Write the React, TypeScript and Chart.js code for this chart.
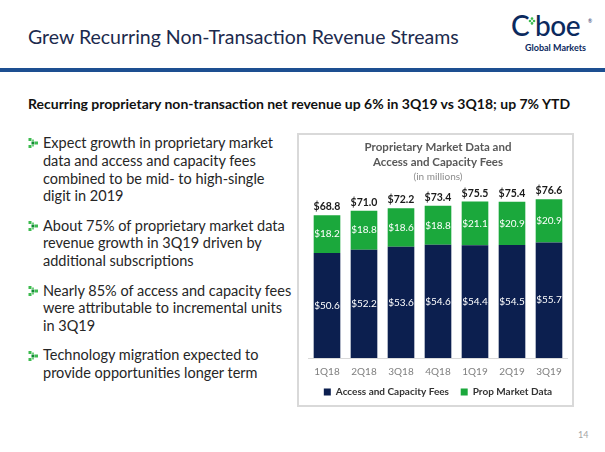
import React, { useEffect, useRef } from "react";
import { Chart, registerables } from "chart.js";

Chart.register(...registerables);

const categories = ["1Q18", "2Q18", "3Q18", "4Q18", "1Q19", "2Q19", "3Q19"];
const accessCapacityFees = [50.6, 52.2, 53.6, 54.6, 54.4, 54.5, 55.7];
const propMarketData = [18.2, 18.8, 18.6, 18.8, 21.1, 20.9, 20.9];
const totals = [68.8, 71.0, 72.2, 73.4, 75.5, 75.4, 76.6];
const seriesNames = ["Access and Capacity Fees", "Prop Market Data"];
const chartTitle = ["Proprietary Market Data and", "Access and Capacity Fees"];
const chartSubtitle = "(in millions)";

const pageTitle = "Grew Recurring Non-Transaction Revenue Streams";
const pageSubtitle = "Recurring proprietary non-transaction net revenue up 6% in 3Q19 vs 3Q18; up 7% YTD";
const bullets: string[][] = [
  ["Expect growth in proprietary market", "data and access and capacity fees", "combined to be mid- to high-single", "digit in 2019"],
  ["About 75% of proprietary market data", "revenue growth in 3Q19 driven by", "additional subscriptions"],
  ["Nearly 85% of access and capacity fees", "were attributable to incremental units", "in 3Q19"],
  ["Technology migration expected to", "provide opportunities longer term"],
];

const NAVY = "#0c1f4f";
const GREEN = "#1ba83c";
const FONT = "Lato, 'Noto Sans', sans-serif";

const labelPlugin = {
  id: "barLabels",
  afterDatasetsDraw(chart: any) {
    const ctx = chart.ctx;
    ctx.save();
    ctx.textAlign = "center";
    ctx.textBaseline = "middle";
    ctx.font = `10px ${FONT}`;
    ctx.fillStyle = "#ffffff";
    chart.data.datasets.forEach((ds: any, di: number) => {
      const meta = chart.getDatasetMeta(di);
      meta.data.forEach((el: any, i: number) => {
        const p = el.getProps(["x", "y", "base"], true);
        ctx.fillText("$" + Number(ds.data[i]).toFixed(1), p.x, (p.y + p.base) / 2);
      });
    });
    const topMeta = chart.getDatasetMeta(chart.data.datasets.length - 1);
    ctx.font = `bold 10.5px ${FONT}`;
    ctx.fillStyle = "#1a1a1a";
    ctx.textBaseline = "bottom";
    topMeta.data.forEach((el: any, i: number) => {
      ctx.fillText("$" + totals[i].toFixed(1), el.x, el.y - 3);
    });
    ctx.restore();
  },
};

function BarChart() {
  const ref = useRef<HTMLCanvasElement>(null);
  useEffect(() => {
    if (!ref.current) return;
    const chart = new Chart(ref.current, {
      type: "bar",
      data: {
        labels: categories,
        datasets: [
          { label: seriesNames[0], data: accessCapacityFees, backgroundColor: NAVY, borderWidth: 0 },
          { label: seriesNames[1], data: propMarketData, backgroundColor: GREEN, borderWidth: 0 },
        ],
      },
      options: {
        animation: false,
        responsive: false,
        maintainAspectRatio: false,
        devicePixelRatio: 1,
        datasets: { bar: { categoryPercentage: 1, barPercentage: 0.72 } },
        layout: { padding: { left: 9.5, right: 4.5, top: 0, bottom: 0 } },
        scales: {
          x: {
            stacked: true,
            grid: { display: false, drawTicks: false },
            border: { display: true, color: "#d9d9d9", width: 1 },
            ticks: { color: "#7f7f7f", font: { family: FONT, size: 10 }, padding: 7.5 },
          },
          y: {
            stacked: true,
            display: false,
            min: 0,
            max: 84.2,
          },
        },
        plugins: {
          title: {
            display: true,
            text: chartTitle,
            color: "#595959",
            font: { family: FONT, size: 11.5, weight: "bold", lineHeight: 1.3 },
            padding: { top: 4.5, bottom: 0 },
          },
          subtitle: {
            display: true,
            text: chartSubtitle,
            color: "#8c8c8c",
            font: { family: FONT, size: 10, lineHeight: 1.2 },
            padding: { top: 1, bottom: 1 },
          },
          legend: {
            position: "bottom",
            labels: {
              boxWidth: 7,
              boxHeight: 7,
              padding: 2,
              color: "#333333",
              font: { family: FONT, size: 10, weight: "bold" },
              generateLabels: (ch: any) => {
                const items = Chart.defaults.plugins.legend.labels.generateLabels(ch);
                return items.map((it: any, i: number) =>
                  i < items.length - 1 ? { ...it, text: it.text + "    " } : it
                );
              },
            },
          },
          tooltip: { enabled: false },
        },
      },
      plugins: [labelPlugin],
    });
    return () => chart.destroy();
  }, []);
  return (
    <canvas
      ref={ref}
      width={273}
      height={272}
      style={{ position: "absolute", left: 0, top: 0, width: 273, height: 272, display: "block" }}
    />
  );
}

function BulletIcon() {
  return (
    <svg width="12" height="10" viewBox="0 0 12 10" style={{ position: "absolute", left: 28, top: -1 }}>
      <rect x="0.5" y="0" width="3" height="3" fill="#3dbb4f" />
      <rect x="0.5" y="7" width="3" height="3" fill="#3dbb4f" />
      <rect x="3.5" y="3.5" width="3" height="3" fill="#0f8a32" />
      <rect x="7" y="3.5" width="3" height="3" fill="#3dbb4f" />
      <rect x="4" y="1.5" width="2" height="2" fill="#6fcf7c" />
      <rect x="4" y="6.5" width="2" height="2" fill="#6fcf7c" />
    </svg>
  );
}

// Lato: ascent ~0.987em; line box 1.2em -> baseline at top + 0.987*fs when lineHeight = 1.2
function topFromBaseline(baseline: number, fs: number) {
  return baseline - 0.987 * fs;
}

export default function App() {
  const bulletStarts = [148.3, 231, 296, 360.7];
  const lineStep = 17.8;
  const bfs = 14.5;
  return (
    <div
      style={{
        position: "fixed",
        left: 0,
        top: 0,
        width: 605,
        height: 452,
        background: "#ffffff",
        overflow: "hidden",
        fontFamily: FONT,
      }}
    >
      {/* Title */}
      <div
        style={{
          position: "absolute",
          left: 28,
          top: topFromBaseline(44, 19.5),
          fontSize: 19.5,
          lineHeight: 1.2,
          color: "#1c2a4d",
          whiteSpace: "nowrap",
        }}
      >
        {pageTitle}
      </div>
      {/* Logo */}
      <div style={{ position: "absolute", left: 510, top: 8, width: 90, height: 50, color: "#0b2a5e" }}>
        <div style={{ position: "absolute", left: 1, top: 2, fontSize: 28, lineHeight: "30px", fontWeight: 500, letterSpacing: -0.5 }}>C</div>
        <svg width="8" height="8" viewBox="0 0 8 8" style={{ position: "absolute", left: 18, top: 9 }}>
          <circle cx="2" cy="4" r="1.3" fill="#3dbb4f" />
          <circle cx="4" cy="1.6" r="1.3" fill="#3dbb4f" />
          <circle cx="6" cy="4" r="1.3" fill="#3dbb4f" />
          <circle cx="4" cy="6.4" r="1.3" fill="#3dbb4f" />
        </svg>
        <div style={{ position: "absolute", left: 25, top: 2, fontSize: 28, lineHeight: "30px", fontWeight: 500, letterSpacing: -0.5 }}>boe</div>
        <div style={{ position: "absolute", left: 78, top: 10, fontSize: 5, lineHeight: "6px" }}>®</div>
        <div style={{ position: "absolute", left: 15, top: 35, fontSize: 9, lineHeight: "10px", fontWeight: 700, whiteSpace: "nowrap" }}>
          Global Markets
        </div>
      </div>
      {/* Header rule */}
      <div style={{ position: "absolute", left: 0, top: 68, width: 605, height: 4, background: "#1d4f91" }} />
      {/* Subtitle */}
      <div
        style={{
          position: "absolute",
          left: 28,
          top: topFromBaseline(110, 14),
          fontSize: 14,
          lineHeight: 1.2,
          fontWeight: 700,
          color: "#111111",
          whiteSpace: "nowrap",
        }}
      >
        {pageSubtitle}
      </div>
      {/* Bullets */}
      {bullets.map((lines, bi) => (
        <div key={bi} style={{ position: "absolute", left: 0, top: bulletStarts[bi] - 9, width: 300 }}>
          <BulletIcon />
          {lines.map((ln, li) => (
            <div
              key={li}
              style={{
                position: "absolute",
                left: 43,
                top: 9 + topFromBaseline(li * lineStep, bfs),
                fontSize: bfs,
                lineHeight: 1.2,
                color: "#262626",
                whiteSpace: "nowrap",
              }}
            >
              {ln}
            </div>
          ))}
        </div>
      ))}
      {/* Chart box */}
      <div
        style={{
          position: "absolute",
          left: 297,
          top: 133,
          width: 277,
          height: 274,
          border: "2px solid #d9d9d9",
          boxSizing: "border-box",
        }}
      >
        <BarChart />
      </div>
      {/* Page number */}
      <div style={{ position: "absolute", left: 578, top: 429, fontSize: 9, lineHeight: "11px", color: "#a6a6a6" }}>14</div>
    </div>
  );
}
